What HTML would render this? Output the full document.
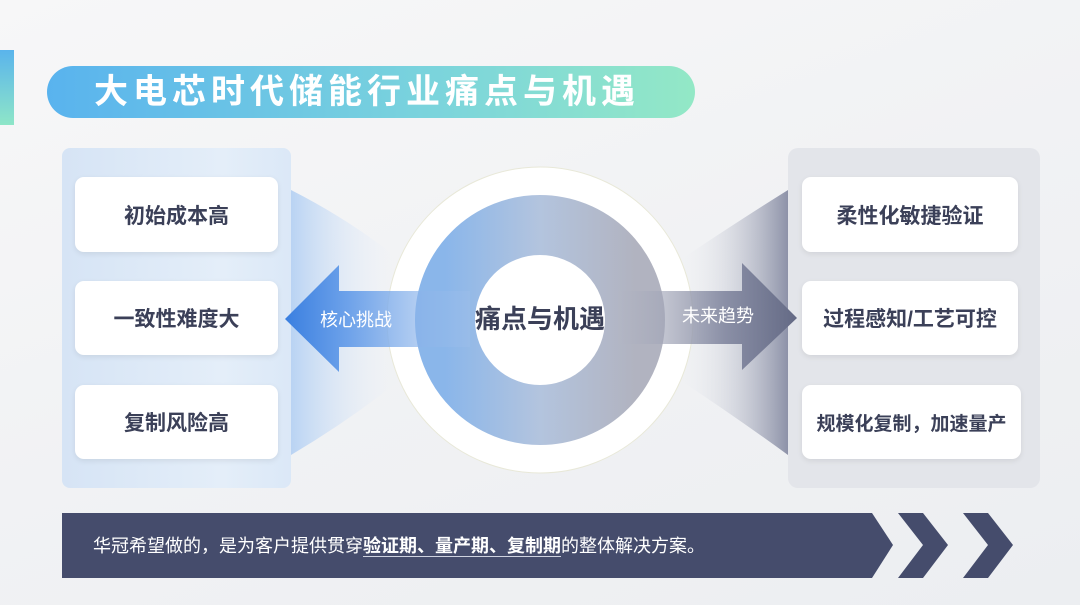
<!DOCTYPE html>
<html><head><meta charset="utf-8"><style>
*{margin:0;padding:0;box-sizing:border-box}
body{width:1080px;height:605px;overflow:hidden;background:linear-gradient(160deg,#f7f7f8 0%,#f1f2f4 50%,#eceef1 100%);position:relative;font-family:"Liberation Sans","Noto Sans CJK SC",sans-serif}
.abs{position:absolute}
.box{position:absolute;background:#fff;border-radius:9px;display:flex;align-items:center;justify-content:center;font-weight:bold;color:#3b4058;font-size:21px;box-shadow:0 2px 6px rgba(0,0,0,.08)}
</style></head><body>
<div class="abs" style="left:0;top:50px;width:14px;height:75px;background:linear-gradient(180deg,#5ab4ec,#8ee6c8)"></div>
<div class="abs" style="left:47px;top:66px;width:648px;height:52px;border-radius:26px;background:linear-gradient(90deg,#59b3ee,#7bd4dc 60%,#93e8c6);color:#fff;font-weight:bold;font-size:34px;line-height:52px;padding-left:47px;letter-spacing:5px">大电芯时代储能行业痛点与机遇</div>

<div class="abs" style="left:62px;top:148px;width:229px;height:340px;border-radius:8px;background:linear-gradient(90deg,#d6e4f5,#e4eef9 70%,#dbe8f7)"></div>
<div class="abs" style="left:788px;top:148px;width:252px;height:340px;border-radius:10px;background:#e3e5ea"></div>

<svg class="abs" style="left:0;top:0" width="1080" height="605">
<defs>
<linearGradient id="fl" x1="0" x2="1"><stop offset="0" stop-color="#b9d3f3"/><stop offset="1" stop-color="#eef3fa" stop-opacity="0"/></linearGradient>
<linearGradient id="fr" x1="0" x2="1"><stop offset="0" stop-color="#eef0f4" stop-opacity="0"/><stop offset="1" stop-color="#8d92a8"/></linearGradient>
<linearGradient id="ring" x1="0" x2="1"><stop offset="0" stop-color="#8ab6ea"/><stop offset=".5" stop-color="#b3c4de"/><stop offset="1" stop-color="#b1b3c0"/></linearGradient>
<linearGradient id="al" x1="0" x2="1"><stop offset="0" stop-color="#3a7fe0"/><stop offset=".35" stop-color="#6fa3ea"/><stop offset="1" stop-color="#9ebfeb" stop-opacity=".4"/></linearGradient>
<linearGradient id="ar" x1="0" x2="1"><stop offset="0" stop-color="#b3b6c4" stop-opacity=".4"/><stop offset=".6" stop-color="#8a8fa6"/><stop offset="1" stop-color="#646a85"/></linearGradient>
</defs>
<path d="M291 190 Q350 220 400 260 L400 380 Q350 420 291 455 Z" fill="url(#fl)"/>
<path d="M680 260 Q740 220 788 190 L788 455 Q740 420 680 380 Z" fill="url(#fr)"/>
<circle cx="540" cy="320" r="153" fill="#fff" stroke="#e8e8d8" stroke-width="1"/>
<circle cx="540" cy="320" r="95" fill="none" stroke="url(#ring)" stroke-width="60"/>
<path d="M285 319 L339 265 L339 291 L470 291 L470 347 L339 347 L339 372 Z" fill="url(#al)"/>
<path d="M618 291 L742 291 L742 263 L797 318 L742 370 L742 344 L618 344 Z" fill="url(#ar)"/>
<path d="M62 513 L872 513 L893 545 L872 578 L62 578 Z" fill="#454c6c"/>
<path d="M898 513 L923 513 L948 545 L923 578 L898 578 L923 545 Z" fill="#454c6c"/>
<path d="M963 513 L988 513 L1013 545 L988 578 L963 578 L988 545 Z" fill="#454c6c"/>
<text x="320" y="326" fill="#fff" font-size="18" font-family="Liberation Sans,Noto Sans CJK SC,sans-serif">核心挑战</text>
<text x="682" y="322" fill="#fff" font-size="18" font-family="Liberation Sans,Noto Sans CJK SC,sans-serif">未来趋势</text>
<text x="540" y="328" fill="#3b4058" font-size="26" font-weight="bold" text-anchor="middle" font-family="Liberation Sans,Noto Sans CJK SC,sans-serif">痛点与机遇</text>
</svg>

<div class="box" style="left:75px;top:177px;width:203px;height:75px">初始成本高</div>
<div class="box" style="left:75px;top:281px;width:203px;height:74px">一致性难度大</div>
<div class="box" style="left:75px;top:385px;width:203px;height:74px">复制风险高</div>
<div class="box" style="left:802px;top:177px;width:216px;height:75px">柔性化敏捷验证</div>
<div class="box" style="left:802px;top:281px;width:216px;height:74px">过程感知/工艺可控</div>
<div class="box" style="left:802px;top:385px;width:219px;height:74px;font-size:19px">规模化复制，加速量产</div>

<div class="abs" style="left:93px;top:533px;color:#fff;font-size:18px;line-height:26px">华冠希望做的，是为客户提供贯穿<b style="border-bottom:1px solid #cfd3e0">验证期、量产期、复制期</b>的整体解决方案。</div>
</body></html>
